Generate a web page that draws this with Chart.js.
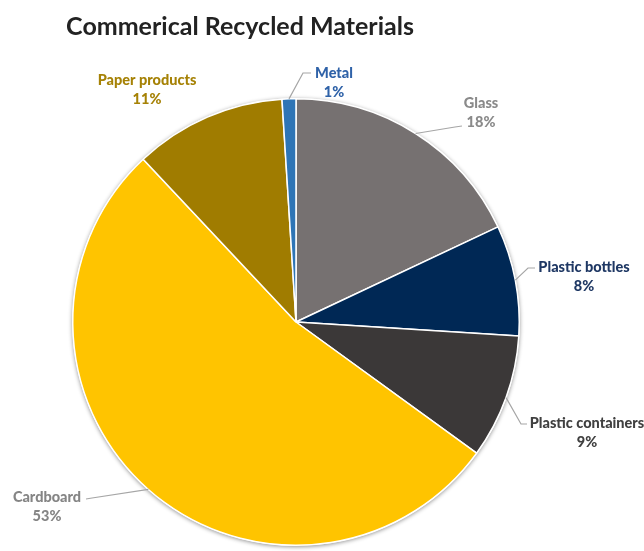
<!DOCTYPE html>
<html>
<head>
<meta charset="utf-8">
<script src="https://cdn.jsdelivr.net/npm/chart.js@4.4.1/dist/chart.umd.min.js"></script>
<style>
  html, body { margin: 0; padding: 0; background: #fff; }
  #wrap { width: 644px; height: 551px; position: relative; }
</style>
</head>
<body>
<div id="wrap"><canvas id="pie"></canvas></div>
<script>
// recycled material shares, clockwise from 12 o'clock
var materials = ['Glass', 'Plastic bottles', 'Plastic containers', 'Cardboard', 'Paper products', 'Metal'];
var shares = [18, 8, 9, 53, 11, 1];
var sliceColors = ['#767171', '#002855', '#3b3838', '#ffc400', '#a07c00', '#2e75b6'];
var labelColors = ['#8a8a8a', '#1f3864', '#404040', '#858585', '#a68206', '#2f62a8'];

// where each label sits (text centre x, first baseline y) and leader elbow
var labelPos = [
  { x: 481, y: 108, elbow: [455, 127], end: [462, 126] },
  { x: 584, y: 272, elbow: [528, 268], end: [535, 268] },
  { x: 587, y: 428, elbow: [521, 424], end: [527, 424] },
  { x: 47,  y: 502, elbow: [92, 498],  end: [86, 499] },
  { x: 147, y: 85,  elbow: null,       end: null },
  { x: 334, y: 78,  elbow: [303, 73],  end: [311, 73] }
];

var title = 'Commerical Recycled Materials';

var pieShadow = {
  id: 'pieShadow',
  beforeDatasetsDraw: function (chart) {
    var arc = chart.getDatasetMeta(0).data[0];
    if (!arc) return;
    var ctx = chart.ctx;
    ctx.save();
    ctx.shadowColor = 'rgba(0,0,0,0.45)';
    ctx.shadowBlur = 4;
    ctx.shadowOffsetX = 0;
    ctx.shadowOffsetY = 1;
    ctx.fillStyle = '#ffffff';
    ctx.beginPath();
    ctx.arc(arc.x, arc.y, arc.outerRadius + 0.5, 0, Math.PI * 2);
    ctx.fill();
    ctx.restore();
  }
};

var pieLabels = {
  id: 'pieLabels',
  afterDraw: function (chart) {
    var ctx = chart.ctx;
    ctx.save();
    ctx.fillStyle = '#222222';
    ctx.font = 'bold 25px Lato';
    ctx.textAlign = 'center';
    ctx.textBaseline = 'alphabetic';
    ctx.fillText(title, 240, 35);

    var meta = chart.getDatasetMeta(0);
    var total = shares.reduce(function (a, b) { return a + b; }, 0);
    meta.data.forEach(function (arc, i) {
      var p = labelPos[i];
      if (p.elbow) {
        var mid = (arc.startAngle + arc.endAngle) / 2;
        var ax = arc.x + Math.cos(mid) * arc.outerRadius;
        var ay = arc.y + Math.sin(mid) * arc.outerRadius;
        ctx.strokeStyle = '#a6a6a6';
        ctx.lineWidth = 1.2;
        ctx.beginPath();
        ctx.moveTo(ax, ay);
        ctx.lineTo(p.elbow[0], p.elbow[1]);
        ctx.lineTo(p.end[0], p.end[1]);
        ctx.stroke();
      }
      ctx.fillStyle = labelColors[i];
      ctx.font = '900 14.5px Lato';
      ctx.fillText(materials[i], p.x, p.y);
      ctx.fillText(Math.round(shares[i] / total * 100) + '%', p.x, p.y + 19);
    });
    ctx.restore();
  }
};

new Chart(document.getElementById('pie'), {
  type: 'pie',
  data: {
    labels: materials,
    datasets: [{
      data: shares,
      backgroundColor: sliceColors,
      borderColor: '#ffffff',
      borderWidth: 1.5
    }]
  },
  options: {
    responsive: true,
    maintainAspectRatio: false,
    animation: false,
    layout: { padding: { top: 98, bottom: 5, left: 72, right: 124 } },
    plugins: {
      legend: { display: false },
      tooltip: { enabled: false }
    }
  },
  plugins: [pieShadow, pieLabels]
});
</script>
</body>
</html>
